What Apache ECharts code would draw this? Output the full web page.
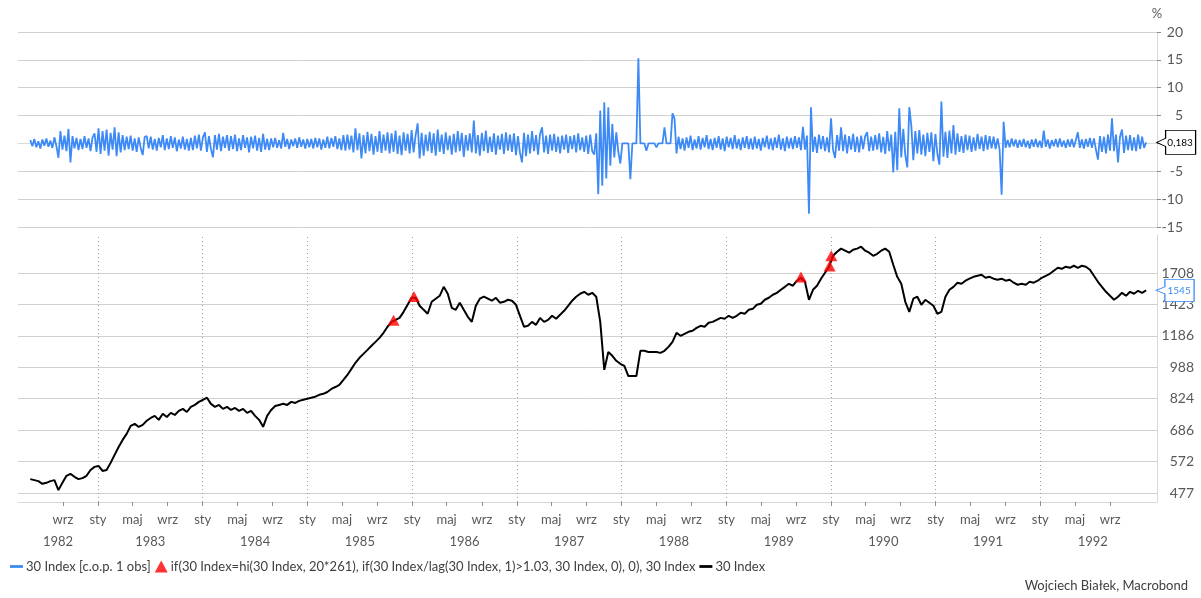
<!DOCTYPE html>
<html>
<head>
<meta charset="utf-8">
<title>30 Index</title>
<script src="https://cdn.jsdelivr.net/npm/echarts@6/dist/echarts.min.js"></script>
<style>
    html, body { margin: 0; padding: 0; background: #fff; }
    #chart { width: 1201px; height: 598px; }
</style>
</head>
<body>
<div id="chart"></div>
<script>
// weekly readings of the daily % change, first point 1982-05-10
const pctStart = [1982, 5, 10];
const pctStepDays = 7;
const pctChange = [
    0.6, -0.5, 0.8, -0.7, 0.4, -0.9, 0.7, -0.4, 0.9, -0.6, 0.5, -0.8, 1.1, -0.5, -2.6, 2.2, -1.1, 1.4, -1.4, 2.6,
    -3.4, 1.3, -0.9, 1.0, -1.2, 0.8, -1.0, 1.3, -0.8, 0.9, -1.4, 1.1, 1.8, -1.5, 2.7, -1.9, 2.2, -1.3, 2.5, -2.2,
    1.9, -1.1, 2.9, -2.3, 2.0, -1.6, 1.5, -1.2, 1.2, -1.0, 1.4, -1.3, 0.9, -1.5, 1.1, -0.8, -2.1, 1.2, 1.3, -0.9,
    1.2, -1.1, 0.8, -1.3, 1.0, -0.7, 1.5, -1.2, 0.9, -1.0, 1.3, -0.8, 1.1, -1.4, 0.7, -0.9, 1.2, -1.1, 0.8, -1.3,
    1.0, -1.2, 1.4, -0.9, 1.6, -1.3, 1.1, 2.0, -1.5, 1.3, -1.0, -2.5, 1.5, -1.1, 1.7, -1.4, 1.2, -0.8, 1.5, -1.3,
    1.3, -1.0, 1.6, -1.4, 0.9, -1.2, 1.5, -0.8, 1.1, -1.6, 1.2, -0.9, 1.4, -1.3, 1.0, -1.5, 1.7, -1.1, 0.8, -1.2,
    0.9, -0.7, 1.0, -0.8, 0.6, -0.9, 1.9, -0.6, 0.8, -1.0, 0.7, -0.5, 0.9, -0.8, 1.1, -0.6, 0.7, -0.9, 0.8, -0.7,
    0.8, -0.9, 1.0, -0.7, 0.9, -1.1, 0.7, -0.8, 1.2, -0.9, 1.0, -0.6, 1.3, -1.0, 0.9, -1.2, 1.5, -1.3, 1.6, -1.1,
    1.4, -1.6, 2.7, -1.2, 1.8, -2.7, 1.5, -1.8, 2.1, -1.4, 1.7, -2.0, 1.3, -1.5, 2.2, -1.7, 1.6, -1.3, 2.0, -1.8,
    1.8, -1.5, 2.3, -1.9, 1.4, -2.1, 2.0, -1.3, 1.7, -1.8, 2.4, -1.6, 1.5, 3.6, -2.7, 1.9, -2.2, 1.6, -1.4, 2.1,
    -1.7, 1.8, -2.2, 2.5, -1.5, 1.6, -1.9, 2.0, -1.2, 1.4, -2.0, 1.7, -1.6, 2.2, -1.4, 1.9, -2.4, 1.5, -1.3, 1.8,
    -1.6, 4.1, -1.8, 1.5, -2.2, 1.9, -1.4, 2.3, -1.7, 1.2, -1.5, 1.8, -2.0, 1.4, -1.1, 1.7, -1.9, 2.0, -1.3, 1.6,
    -1.5, 1.8, -2.1, 1.3, -1.7, -3.4, 1.9, -2.3, 1.6, -1.8, 2.2, -1.4, 1.5, -2.0, 1.7, 2.9, -1.6, 1.4, -1.9, 1.6,
    -1.3, 1.7, -1.5, 1.2, -1.8, 1.4, -1.1, 1.6, -1.7, 1.3, -1.0, 1.5, -1.6, 1.8, -1.2, 1.1, -1.5, 1.4, -1.9, 1.6,
    -1.4, -2.0, 1.8, -9.1, 5.9, -7.6, 7.4, -6.3, 6.5, -4.0, 3.5, -2.5, 2.0, -1.5, -3.6, 0, 0, 0, 0, -6.4,
    0, 0, 0, 15.3, 0, 0, 0, -1.3, 0, 0, 0, 0, -0.7, 0, 0, 0, 2.9, 0, 0, 0,
    5.4, 4.5, -1.8, 1.2, -1.0, 0.9, -1.3, 1.1, -0.8, 1.4, -1.2, 0.7, -0.9, 1.3, -1.1, 1.0, -0.7, 1.5, -1.0, 0.8,
    -1.2, 1.0, -0.8, 1.3, -1.1, 0.9, -1.4, 1.2, -0.7, 1.0, -1.0, 1.5, -0.9, 0.8, -1.2, 1.1, -0.8, 1.3, -1.0, 0.9,
    -1.1, 1.2, -0.9, 0.8, -1.3, 1.0, -0.7, 1.4, -1.0, 0.9, -1.2, 1.1, -0.8, 1.6, -1.1, 0.9, -1.4, 1.2, -0.9, 1.0,
    -1.0, 1.3, -0.8, 1.1, -1.2, 3.0, -1.1, 1.4, -12.6, 6.5, -1.5, 1.2, -1.7, 1.6, -1.0, 1.3, -1.4, 1.1, -1.6, 4.5,
    -1.2, -2.6, 1.5, -1.3, 2.9, -1.4, 1.6, -1.8, 1.3, -1.1, 1.7, -1.5, 1.2, -1.6, 1.4, -1.0, 1.3, 2.0, -1.4, 1.2,
    -1.3, 1.5, -1.1, 1.8, -1.6, 1.2, -1.9, 2.2, -1.4, 1.6, -5.2, 2.1, -4.8, 6.3, -2.5, 2.6, -2.1, -4.3, 6.5, 3.2,
    -3.0, 2.2, -1.8, 2.4, -2.0, 1.6, -2.3, 1.9, -1.5, 2.0, -3.2, 1.7, -1.9, -3.8, 7.5, -2.4, 2.1, -2.6, 2.3, -1.8,
    3.3, -2.0, 1.8, -1.5, 1.3, -1.7, 1.6, -1.2, 1.4, -1.5, 1.1, -1.3, 1.7, -1.0, 1.2, -1.4, 1.5, -1.1, 1.3, -0.9,
    1.2, -1.0, 0.9, -1.1, -9.2, 3.9, -0.8, 0.6, -0.7, 0.9, -0.5, 0.7, -0.8, 0.6, -0.6, 0.8, -0.7, 0.5, -0.9, 0.7,
    -0.6, 0.8, -0.7, 0.5, -0.8, 2.3, -0.6, 0.7, -0.9, 0.6, -0.5, 0.8, -0.7, 0.9, -0.6, 0.5, -0.8, 0.7, -0.6, 0.8,
    -0.7, 0.6, 2.0, -0.8, 0.7, -0.9, 0.8, -0.6, 1.0, -0.8, 0.9, -1.1, -2.9, 1.3, -1.5, 1.2, -1.8, 1.6, -1.3, 4.5,
    -1.4, 1.6, -3.4, 1.2, 2.5, -1.7, 1.4, -1.2, 1.5, -1.3, 1.1, -1.4, 1.6, -1.0, 1.2, -0.8, 0.183
];

// 30 Index, read every second week from the same start
const indexStepDays = 14;
const index30 = [
    517, 514, 511, 503, 506, 511, 514, 485, 506, 527, 533, 524, 517, 520, 527, 545, 555, 558, 542, 545,
    568, 595, 623, 649, 672, 704, 712, 700, 708, 725, 737, 746, 729, 755, 741, 759, 750, 768, 777, 763,
    786, 795, 809, 819, 829, 800, 786, 795, 777, 786, 772, 781, 768, 777, 759, 768, 746, 729, 700, 746,
    772, 790, 795, 800, 795, 809, 804, 814, 819, 824, 829, 834, 843, 848, 857, 872, 882, 893, 919, 946,
    980, 1015, 1045, 1069, 1094, 1120, 1146, 1173, 1208, 1251, 1287, 1302, 1317, 1364, 1421, 1480, 1480, 1413, 1380, 1349,
    1446, 1472, 1497, 1577, 1515, 1396, 1380, 1438, 1380, 1325, 1287, 1413, 1472, 1489, 1472, 1455, 1480, 1438, 1446, 1463,
    1455, 1421, 1333, 1251, 1258, 1287, 1265, 1317, 1287, 1302, 1333, 1310, 1341, 1372, 1413, 1455, 1489, 1515, 1532, 1506,
    1523, 1489, 1287, 974, 1081, 1057, 1027, 1009, 997, 940, 940, 940, 1088, 1088, 1081, 1081, 1081, 1075, 1088, 1113,
    1146, 1208, 1187, 1201, 1215, 1222, 1243, 1258, 1251, 1280, 1287, 1302, 1317, 1310, 1333, 1317, 1333, 1357, 1349, 1380,
    1388, 1421, 1429, 1463, 1480, 1506, 1523, 1550, 1577, 1605, 1587, 1634, 1662, 1624, 1463, 1550, 1587, 1653, 1711, 1772,
    1888, 1933, 1968, 1945, 1922, 1956, 1968, 1990, 1945, 1922, 1888, 1910, 1945, 1968, 1933, 1792, 1671, 1605, 1446, 1364,
    1472, 1489, 1421, 1463, 1438, 1413, 1349, 1364, 1489, 1550, 1577, 1615, 1605, 1634, 1653, 1671, 1681, 1691, 1662, 1671,
    1653, 1643, 1653, 1634, 1643, 1615, 1596, 1605, 1596, 1624, 1615, 1634, 1662, 1681, 1701, 1731, 1761, 1751, 1772, 1761,
    1782, 1761, 1782, 1772, 1741, 1681, 1624, 1577, 1532, 1497, 1463, 1489, 1523, 1497, 1532, 1515, 1541, 1523, 1545
];

// new 20-year highs reached on a >3% day
const signalDates = ['1985-10-28', '1986-01-07', '1989-09-18', '1989-12-27', '1990-01-02'];
const signalValues = [1300, 1490, 1670, 1780, 1888];

const logTicks = [477, 572, 686, 824, 988, 1186, 1423, 1708];
const monthNames = ['sty', 'maj', 'wrz'];   // Jan, May, Sep
const years = [1982, 1983, 1984, 1985, 1986, 1987, 1988, 1989, 1990, 1991, 1992];

const blueName = '30 Index [c.o.p. 1 obs]';
const signalName = 'if(30 Index=hi(30 Index, 20*261), if(30 Index/lag(30 Index, 1)>1.03, 30 Index, 0), 0), 30 Index';
const indexName = '30 Index';

const FONT = 'Lato, "Noto Sans", sans-serif';
const BLUE = '#3d8af7';
const DAY = 864e5;

function at(y, m, d) { return new Date(y, m - 1, d).getTime(); }
function parseDay(s) { const p = s.split('-').map(Number); return at(p[0], p[1], p[2]); }

const xMin = at(1982, 3, 28);
const xMax = at(1993, 2, 11);
const t0 = at(pctStart[0], pctStart[1], pctStart[2]);

const pctData = pctChange.map((v, i) => [t0 + i * pctStepDays * DAY, v]);
const indexData = index30.map((v, i) => [t0 + i * indexStepDays * DAY, v]);
const signalData = signalDates.map((d, i) => [parseDay(d), signalValues[i]]);

let monthTicks = [];
years.forEach(y => {
    [1, 5, 9].forEach(m => {
        const t = at(y, m, 1);
        if (t >= at(1982, 9, 1) && t <= at(1992, 9, 1)) monthTicks.push(t);
    });
});
const yearCenters = years.map(y => {
    const a = Math.max(xMin, at(y, 1, 1));
    const b = Math.min(xMax, at(y + 1, 1, 1));
    return (a + b) / 2;
});
const yearStarts = years.slice(1).map(y => at(y, 1, 1));

const calloutPath = 'path://M9,0L39,0L39,24L9,24L9,16L0,12L9,8Z';

// x axes are plain value axes holding timestamps
function dateAxis(grid, extra) {
    return Object.assign({
        gridIndex: grid, type: 'value', position: 'bottom', min: xMin, max: xMax,
        axisLine: { show: false },
        axisTick: { show: false },
        axisLabel: { show: false },
        splitLine: { show: false }
    }, extra);
}

let myChart = echarts.init(document.getElementById('chart'));
let option = {
    animation: false,
    textStyle: { fontFamily: FONT },
    title: {
        text: 'Wojciech Białek, Macrobond',
        right: 8,
        bottom: 1,
        textStyle: { fontSize: 13, fontWeight: 'normal', color: '#404040', fontFamily: FONT }
    },
    legend: {
        left: 5,
        top: 555,
        itemGap: 4,
        itemWidth: 13,
        itemHeight: 12,
        textStyle: { fontSize: 13, color: '#404040', fontFamily: FONT, padding: [0, 0, 0, -2] },
        data: [
            { name: blueName, icon: 'path://M0,0H14V3H0Z' },
            { name: signalName, icon: 'triangle' },
            { name: indexName, icon: 'path://M0,0H14V3H0Z' }
        ]
    },
    grid: [
        { left: 18, right: 44, top: 32, height: 195 },
        { left: 18, right: 44, top: 235, height: 267 }
    ],
    xAxis: [
        dateAxis(0, {
            offset: 8,
            axisLine: { show: true, lineStyle: { color: '#d9d9d9' } }
        }),
        dateAxis(1, {
            axisLine: { show: true, lineStyle: { color: '#d9d9d9' } },
            axisTick: { show: true, customValues: monthTicks, length: 4, lineStyle: { color: '#8c8c8c' } },
            axisLabel: {
                show: true,
                customValues: monthTicks,
                formatter: v => monthNames[Math.round(new Date(v).getMonth() / 4)],
                color: '#595959', fontSize: 13, margin: 11, fontFamily: FONT
            }
        }),
        dateAxis(1, {
            offset: 22,
            axisLabel: {
                show: true,
                customValues: yearCenters,
                formatter: v => String(new Date(v).getFullYear()),
                color: '#595959', fontSize: 13, margin: 11, fontFamily: FONT
            }
        })
    ],
    yAxis: [
        {
            gridIndex: 0, type: 'value', position: 'right', min: -15, max: 20, interval: 5,
            name: '%', nameLocation: 'end', nameGap: 12,
            nameTextStyle: { color: '#595959', fontSize: 13, fontFamily: FONT },
            axisLine: { show: true, lineStyle: { color: '#d9d9d9' } },
            axisTick: { show: true, length: 4, lineStyle: { color: '#8c8c8c' } },
            axisLabel: { align: 'right', margin: 26, color: '#595959', fontSize: 14, fontFamily: FONT },
            splitLine: { lineStyle: { color: '#d0d0d0', width: 1 } }
        },
        {
            gridIndex: 1, type: 'log', logBase: 1.2, position: 'right', min: 452.7, max: 2130,
            axisLine: { show: true, lineStyle: { color: '#d9d9d9' } },
            axisTick: { show: false },
            axisLabel: { show: false },
            splitLine: { show: false }
        }
    ],
    series: [
        {
            name: blueName,
            type: 'line',
            xAxisIndex: 0,
            yAxisIndex: 0,
            data: pctData,
            showSymbol: false,
            lineStyle: { color: BLUE, width: 1.8 },
            itemStyle: { color: BLUE },
            markPoint: {
                symbol: calloutPath,
                symbolSize: [39, 24],
                symbolOffset: [30, 0],
                itemStyle: { color: '#fff', borderColor: '#000', borderWidth: 1 },
                label: {
                    show: true, position: 'inside', offset: [4, 0], color: '#000', fontSize: 10,
                    fontFamily: FONT,
                    formatter: p => String(p.value).replace('.', ',')
                },
                data: [{ coord: pctData[pctData.length - 1], value: pctData[pctData.length - 1][1] }]
            }
        },
        {
            name: signalName,
            type: 'scatter',
            xAxisIndex: 1,
            yAxisIndex: 1,
            data: signalData,
            symbol: 'triangle',
            symbolSize: [12, 11],
            itemStyle: { color: '#ff0000' },
            z: 4
        },
        {
            name: indexName,
            type: 'line',
            xAxisIndex: 1,
            yAxisIndex: 1,
            data: indexData,
            showSymbol: false,
            z: 3,
            lineStyle: { color: '#000', width: 2 },
            itemStyle: { color: '#000' },
            markLine: {
                silent: true,
                symbol: 'none',
                z: 1,
                label: { show: false },
                data: logTicks.map(v => ({
                    yAxis: v,
                    lineStyle: { color: '#d0d0d0', width: 1, type: 'solid' },
                    label: {
                        show: true, position: 'end', formatter: () => String(v), align: 'right',
                        distance: 37, color: '#595959', fontSize: 14, fontFamily: FONT
                    }
                })).concat(yearStarts.map(t => ({
                    xAxis: t,
                    lineStyle: { color: '#a0a0a0', width: 1, type: [1, 3] },
                    label: { show: false }
                })))
            },
            markPoint: {
                symbol: calloutPath,
                symbolSize: [38, 22],
                symbolOffset: [29, 0],
                itemStyle: { color: '#fff', borderColor: BLUE, borderWidth: 1 },
                label: {
                    show: true, position: 'inside', offset: [4, 0], color: BLUE, fontSize: 10,
                    fontFamily: FONT,
                    formatter: p => String(p.value)
                },
                data: [{ coord: indexData[indexData.length - 1], value: indexData[indexData.length - 1][1] }]
            }
        }
    ]
};

myChart.setOption(option);
</script>
</body>
</html>
